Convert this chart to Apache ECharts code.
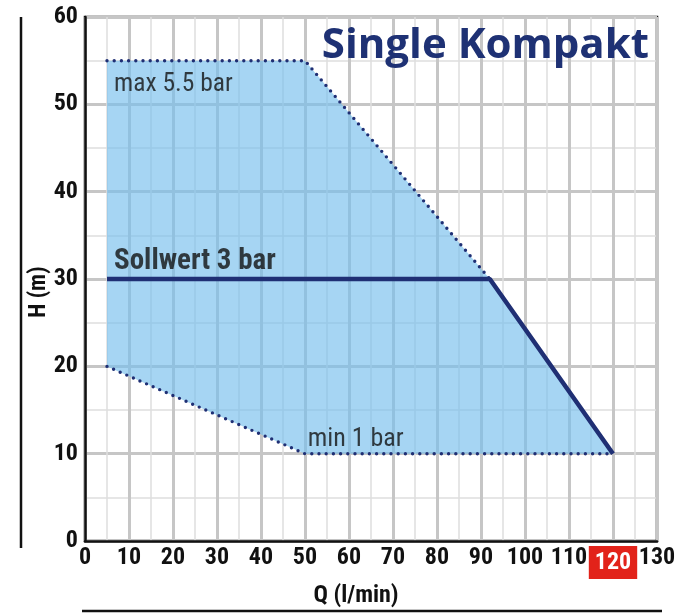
<!DOCTYPE html>
<html>
<head>
<meta charset="utf-8">
<script src="https://cdn.jsdelivr.net/npm/echarts@6/dist/echarts.min.js"></script>
<style>
  html, body { margin: 0; padding: 0; background: #fff; }
  #chart { width: 683px; height: 613px; }
</style>
</head>
<body>
<div id="chart"></div>
<script>
// Pumpen-Kennfeld, Werte
const qTicks = [0, 10, 20, 30, 40, 50, 60, 70, 80, 90, 100, 110, 120, 130]
const hTicks = [0, 10, 20, 30, 40, 50, 60]
// Arbeitsbereich (Fläche)
const areaQ = [5, 50, 92, 120, 50, 5]
const areaH = [55, 55, 30, 10, 10, 20]
// max 5.5 bar (gepunktet)
const maxQ = [5, 50, 92]
const maxH = [55, 55, 30]
// min 1 bar (gepunktet)
const minQ = [5, 50, 120]
const minH = [20, 10, 10]
// Sollwert 3 bar
const setQ = [5, 92, 120]
const setH = [30, 30, 10]

const navy = '#1f2f74'
const font = "'Roboto Condensed', 'Open Sans Condensed', sans-serif"

const chart = echarts.init(document.getElementById('chart'))

function pairs (xs, ys) {
  return xs.map((x, i) => [x, ys[i]])
}

const option = {
  animation: false,
  backgroundColor: '#fff',
  grid: {
    left: 85, right: 26, top: 17, bottom: 66,
    show: true, borderColor: '#111', borderWidth: 2.5, backgroundColor: 'transparent'
  },
  title: {
    text: 'Single Kompakt',
    right: 29, top: 20,
    textStyle: { color: '#1e3174', fontSize: 42, fontWeight: 'bold', fontFamily: "'Open Sans', sans-serif" }
  },
  xAxis: {
    type: 'value', min: qTicks[0], max: qTicks[qTicks.length - 1], interval: 10,
    name: 'Q (l/min)', nameLocation: 'middle', nameGap: 42,
    nameTextStyle: { color: '#111', fontSize: 24, fontWeight: 'bold', fontFamily: font, padding: [0, 30, 0, 0] },
    axisLine: { show: true, lineStyle: { color: '#111', width: 2.5 } },
    axisTick: { show: false },
    axisLabel: {
      color: '#111', fontSize: 24, fontWeight: 'bold', fontFamily: font, margin: 5,
      formatter: v => v === 120 ? '{hi|' + v + '}' : String(v),
      rich: {
        hi: { backgroundColor: '#e2231a', color: '#fff', fontSize: 24, fontWeight: 'bold', fontFamily: font, padding: [5, 6, 4, 6] }
      }
    },
    splitLine: { show: true, lineStyle: { color: '#c6c6c6', width: 3 } },
    minorTick: { show: false, splitNumber: 2 },
    minorSplitLine: { show: true, lineStyle: { color: '#dedede', width: 1.5 } }
  },
  yAxis: {
    type: 'value', min: hTicks[0], max: hTicks[hTicks.length - 1], interval: 10,
    name: 'H (m)', nameLocation: 'middle', nameGap: 34, nameRotate: 90, nameMoveOverlap: false,
    nameTextStyle: { color: '#111', fontSize: 23, fontWeight: 'bold', fontFamily: font, padding: [0, 26, 0, 0] },
    axisLine: { show: true, lineStyle: { color: '#111', width: 2.5 } },
    axisTick: { show: false },
    axisLabel: { color: '#111', fontSize: 24, fontWeight: 'bold', fontFamily: font, margin: 7 },
    splitLine: { show: true, lineStyle: { color: '#c6c6c6', width: 3 } },
    minorTick: { show: false, splitNumber: 2 },
    minorSplitLine: { show: true, lineStyle: { color: '#dedede', width: 1.5 } }
  },
  graphic: [
    { type: 'line', shape: { x1: 21, y1: 17, x2: 21, y2: 548 }, style: { stroke: '#111', lineWidth: 2.5 } },
    { type: 'line', shape: { x1: 82, y1: 611, x2: 662, y2: 611 }, style: { stroke: '#111', lineWidth: 2.5 } }
  ],
  series: [
    {
      name: 'Bereich',
      type: 'custom',
      z: 1,
      data: [0],
      renderItem: function (params, api) {
        const pts = areaQ.map((q, i) => api.coord([q, areaH[i]]))
        return {
          type: 'polygon',
          shape: { points: pts },
          style: { fill: 'rgba(118, 190, 236, 0.65)' }
        }
      }
    },
    {
      name: 'max 5.5 bar', type: 'line', z: 3, showSymbol: false, silent: true,
      data: pairs(maxQ, maxH),
      lineStyle: { color: navy, width: 3.4, type: [0, 7.2], cap: 'round' }
    },
    {
      name: 'min 1 bar', type: 'line', z: 3, showSymbol: false, silent: true,
      data: pairs(minQ, minH),
      lineStyle: { color: navy, width: 3.4, type: [0, 7.2], cap: 'round' }
    },
    {
      name: 'Sollwert 3 bar', type: 'line', z: 4, showSymbol: false, silent: true,
      data: pairs(setQ, setH),
      lineStyle: { color: navy, width: 4.5 }
    },
    {
      name: 'Beschriftung', type: 'scatter', z: 5, symbolSize: 0, silent: true,
      label: {
        show: true, position: 'right', distance: 0,
        formatter: p => p.data.text
      },
      data: [
        { value: [6.6, 52.3], text: 'max 5.5 bar', label: { color: '#111', fontSize: 25.5, fontFamily: font } },
        { value: [6.6, 32.0], text: 'Sollwert 3 bar', label: { color: '#111', fontSize: 29, fontWeight: 'bold', fontFamily: font } },
        { value: [50.6, 11.6], text: 'min 1 bar', label: { color: '#111', fontSize: 26, fontFamily: font } }
      ]
    }
  ]
}

chart.setOption(option)
</script>
</body>
</html>
